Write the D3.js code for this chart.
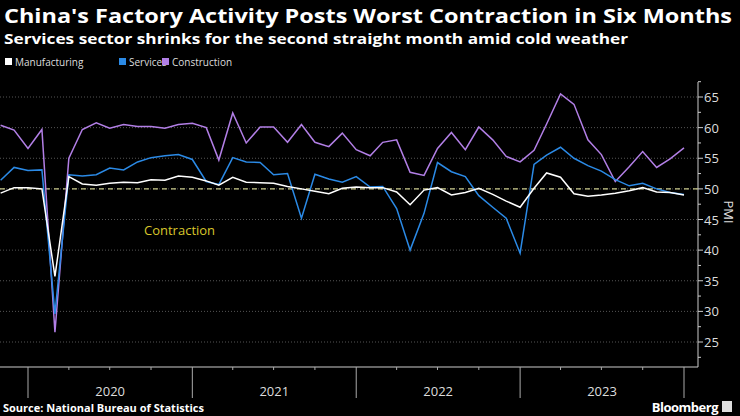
<!DOCTYPE html>
<html>
<head>
<meta charset="utf-8">
<script src="https://cdn.jsdelivr.net/npm/d3@7"></script>
<style>
  body { margin: 0; background: #000; }
  text { font-family: "Open Sans", "DejaVu Sans", sans-serif; }
</style>
</head>
<body>
<svg id="chart" width="740" height="416"></svg>
<script>
// monthly readings, Oct 2019 .. Dec 2023
var startMonth = new Date(2019, 9, 1);
var manufacturing = [49.3,50.2,50.2,50.0,35.7,52.0,50.8,50.6,50.9,51.1,51.0,51.5,51.4,52.1,51.9,51.3,50.6,51.9,51.1,51.0,50.9,50.4,50.0,49.6,49.2,50.1,50.3,50.2,50.2,49.5,47.4,49.8,50.2,49.0,49.4,50.1,49.1,48.0,47.0,50.1,52.6,51.9,49.2,48.8,49.0,49.3,49.7,50.2,49.5,49.4,49.0];
var services = [51.4,53.5,53.0,53.1,29.6,52.3,52.1,52.3,53.4,53.1,54.4,55.1,55.4,55.6,54.8,51.2,50.7,55.1,54.4,54.3,52.3,52.5,45.2,52.4,51.6,51.1,52.0,50.3,50.4,46.8,40.0,46.0,54.3,52.8,52.0,48.9,47.0,45.2,39.5,54.0,55.5,56.8,55.0,53.8,52.9,51.5,50.5,50.9,50.0,49.4,49.1];
var construction = [60.4,59.6,56.6,59.7,26.6,55.0,59.7,60.8,59.9,60.5,60.2,60.2,59.9,60.5,60.7,60.0,54.7,62.4,57.5,60.1,60.1,57.6,60.5,57.6,56.9,59.1,56.4,55.4,57.6,58.0,52.7,52.2,56.6,59.2,56.4,60.1,58.0,55.3,54.4,56.3,60.6,65.5,63.8,58.0,55.6,51.2,53.6,56.1,53.5,54.9,56.7];
var yearLabels = ["2020", "2021", "2022", "2023"];
var seriesNames = ["Manufacturing", "Services", "Construction"];
var colors = ["#ffffff", "#2b8ae6", "#b27fe6"];

var svg = d3.select("#chart");

// a point sits at the end of its month
function monthDate(i) { return new Date(startMonth.getFullYear(), startMonth.getMonth() + i + 1, 1); }

var x = d3.scaleTime().domain([new Date(2020, 0, 1), new Date(2024, 0, 1)]).range([28, 684]);
var y = d3.scaleLinear().domain([25, 65]).range([342, 97]);
var plotRight = 698, plotBottom = 367, plotTop = 82;

svg.append("text").attr("x", 4).attr("y", 23).attr("fill", "#fff")
  .style("font-size", "19px").style("font-weight", "bold")
  .attr("textLength", 728).attr("lengthAdjust", "spacingAndGlyphs")
  .text("China's Factory Activity Posts Worst Contraction in Six Months");
svg.append("text").attr("x", 4).attr("y", 44).attr("fill", "#fff")
  .style("font-size", "14px").style("font-weight", "bold")
  .attr("textLength", 624).attr("lengthAdjust", "spacingAndGlyphs")
  .text("Services sector shrinks for the second straight month amid cold weather");

// legend
var lx = [5, 119, 162];
seriesNames.forEach(function (n, i) {
  svg.append("rect").attr("x", lx[i]).attr("y", 58).attr("width", 7).attr("height", 7).attr("fill", colors[i]);
  svg.append("text").attr("x", lx[i] + 10).attr("y", 65.5).attr("fill", "#ddd")
    .style("font-size", "10px").text(n);
});

// gridlines
var ticks = d3.range(25, 66, 5);
svg.selectAll(".grid").data(ticks).enter().append("line")
  .attr("x1", 0).attr("x2", plotRight).attr("y1", y).attr("y2", y)
  .attr("stroke", "#555").attr("stroke-dasharray", "1,2");

// y axis
svg.append("line").attr("x1", plotRight).attr("x2", plotRight).attr("y1", plotTop).attr("y2", plotBottom).attr("stroke", "#ccc");
svg.selectAll(".ymin").data(d3.range(22.5, 67.6, 2.5)).enter().append("line")
  .attr("x1", plotRight).attr("x2", function (d) { return plotRight + (d % 5 === 0 ? 5 : 3); })
  .attr("y1", y).attr("y2", y).attr("stroke", "#ccc");
svg.selectAll(".ylab").data(ticks).enter().append("text")
  .attr("x", plotRight + 6).attr("y", function (d) { return y(d) + 5; })
  .attr("fill", "#ddd").style("font-size", "13px").text(function (d) { return d; });
svg.append("text").attr("transform", "translate(724,212) rotate(90)")
  .attr("text-anchor", "middle").attr("fill", "#ddd").style("font-size", "13px").text("PMI");

// x axis
svg.append("line").attr("x1", 0).attr("x2", plotRight).attr("y1", plotBottom).attr("y2", plotBottom).attr("stroke", "#ccc");
var quarters = d3.timeMonth.every(3).range(new Date(2019, 11, 1), new Date(2024, 0, 2));
svg.selectAll(".xq").data(quarters).enter().append("line")
  .attr("x1", x).attr("x2", x).attr("y1", plotBottom)
  .attr("y2", function (d) { return d.getMonth() === 0 ? 398 : plotBottom + 3; })
  .attr("stroke", "#aaa");
svg.selectAll(".xlab").data(yearLabels).enter().append("text")
  .attr("x", function (d) { return (x(new Date(+d, 0, 1)) + x(new Date(+d + 1, 0, 1))) / 2; })
  .attr("y", 396).attr("text-anchor", "middle").attr("fill", "#ddd")
  .style("font-size", "13px").text(function (d) { return d; });

// 50 line + label
svg.append("line").attr("x1", 0).attr("x2", plotRight).attr("y1", y(50)).attr("y2", y(50))
  .attr("stroke", "#c9c98a").attr("stroke-dasharray", "5,4").attr("stroke-width", 1.2);
svg.append("text").attr("x", 144).attr("y", 235).attr("fill", "#d9c62b")
  .style("font-size", "13px").text("Contraction");

var line = d3.line().x(function (d, i) { return x(monthDate(i)); }).y(function (d) { return y(d); });
[construction, services, manufacturing].forEach(function (s, j) {
  svg.append("path").datum(s).attr("d", line).attr("fill", "none")
    .attr("stroke", colors[2 - j]).attr("stroke-width", 1.5);
});

svg.append("text").attr("x", 3).attr("y", 412).attr("fill", "#fff")
  .style("font-size", "11px").style("font-weight", "bold").text("Source: National Bureau of Statistics");
svg.append("text").attr("x", 718).attr("y", 412).attr("text-anchor", "end").attr("fill", "#fff")
  .style("font-size", "13px").style("font-weight", "bold").style("letter-spacing", "-0.5px").text("Bloomberg");
svg.append("rect").attr("x", 722).attr("y", 401).attr("width", 10).attr("height", 11).attr("fill", "#ddd");
</script>
</body>
</html>
